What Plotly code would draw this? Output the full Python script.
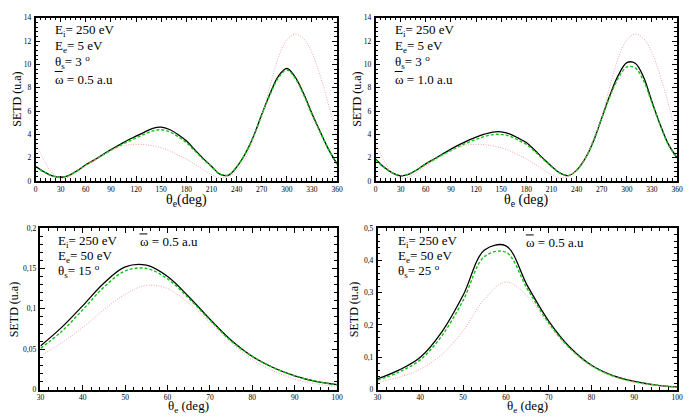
import plotly.graph_objects as go

# ---------------- data ----------------
theta_top = list(range(0, 361, 10))

p1_black = [1.28, 0.8, 0.45, 0.33, 0.5, 0.9, 1.4, 1.8, 2.25, 2.7, 3.1, 3.5, 3.85, 4.2, 4.52, 4.62, 4.42, 4.0, 3.45,
            2.7, 1.95, 1.28, 0.6, 0.5, 1.2, 2.3, 3.8, 5.7, 7.5, 9.0, 9.65, 8.9, 7.5, 5.8, 4.2, 2.7, 1.45]
p1_green = [1.25, 0.78, 0.45, 0.33, 0.5, 0.9, 1.4, 1.8, 2.22, 2.65, 3.02, 3.38, 3.7, 4.02, 4.3, 4.4, 4.22, 3.82, 3.3,
            2.6, 1.88, 1.25, 0.6, 0.52, 1.2, 2.3, 3.8, 5.65, 7.4, 8.85, 9.52, 8.8, 7.4, 5.72, 4.15, 2.68, 1.45]
p1_pink = [3.2, 1.8, 0.7, 0.25, 0.35, 0.8, 1.3, 1.75, 2.2, 2.6, 2.92, 3.1, 3.15, 3.13, 3.02, 2.85, 2.6, 2.25, 1.9,
           1.45, 1.0, 0.55, 0.28, 0.4, 0.9, 1.9, 3.6, 5.5, 8.2, 10.6, 12.1, 12.6, 12.2, 11.0, 9.0, 6.5, 3.6]

p2_black = [1.9, 1.2, 0.7, 0.45, 0.6, 1.0, 1.48, 1.9, 2.32, 2.74, 3.12, 3.47, 3.77, 4.02, 4.2, 4.22, 4.05, 3.7, 3.3,
            2.65, 1.95, 1.28, 0.7, 0.47, 0.92, 1.9, 3.4, 5.4, 7.4, 9.1, 10.15, 10.1, 8.9, 6.8, 4.8, 3.1, 2.0]
p2_green = [1.85, 1.18, 0.7, 0.45, 0.6, 1.0, 1.45, 1.85, 2.25, 2.62, 2.98, 3.3, 3.58, 3.82, 3.98, 4.0, 3.85, 3.52, 3.15,
            2.55, 1.88, 1.25, 0.7, 0.47, 0.92, 1.9, 3.4, 5.35, 7.3, 8.85, 9.78, 9.7, 8.6, 6.7, 4.75, 3.05, 2.0]
p2_pink = [3.2, 1.8, 0.7, 0.25, 0.35, 0.8, 1.3, 1.75, 2.2, 2.6, 2.92, 3.1, 3.15, 3.13, 3.02, 2.85, 2.6, 2.25, 1.9,
           1.45, 1.0, 0.55, 0.28, 0.4, 0.9, 1.9, 3.6, 5.5, 8.2, 10.6, 12.1, 12.6, 12.2, 11.0, 9.0, 6.5, 3.6]

theta_bot = list(range(30, 101, 5))

p3_black = [0.054, 0.077, 0.104, 0.132, 0.152, 0.154, 0.140, 0.115, 0.087, 0.061, 0.041, 0.027, 0.017, 0.010, 0.006]
p3_green = [0.051, 0.072, 0.099, 0.127, 0.147, 0.150, 0.137, 0.113, 0.086, 0.060, 0.041, 0.027, 0.017, 0.010, 0.006]
p3_pink = [0.042, 0.058, 0.077, 0.099, 0.118, 0.129, 0.125, 0.107, 0.083, 0.058, 0.037, 0.023, 0.013, 0.007, 0.004]

p4_black = [0.033, 0.060, 0.100, 0.178, 0.292, 0.432, 0.445, 0.322, 0.212, 0.130, 0.075, 0.043, 0.025, 0.014, 0.008]
p4_green = [0.029, 0.054, 0.092, 0.166, 0.276, 0.412, 0.425, 0.312, 0.206, 0.127, 0.074, 0.042, 0.024, 0.014, 0.008]
p4_pink = [0.022, 0.038, 0.063, 0.108, 0.182, 0.280, 0.333, 0.290, 0.200, 0.125, 0.072, 0.040, 0.022, 0.012, 0.007]

panels = [
    dict(x=theta_top, ys=[p1_black, p1_green, p1_pink]),
    dict(x=theta_top, ys=[p2_black, p2_green, p2_pink]),
    dict(x=theta_bot, ys=[p3_black, p3_green, p3_pink]),
    dict(x=theta_bot, ys=[p4_black, p4_green, p4_pink]),
]

# ---------------- layout geometry ----------------
W, H = 690, 419
FONT = "Liberation Serif, Times New Roman, serif"

def fx(px):
    return px / W

def fy(py):
    return 1 - py / H

dom = [
    ((32, 338), (14, 181)),
    ((377, 683), (14, 181)),
    ((37, 338), (229, 394)),
    ((379, 683), (229, 394)),
]
xcfg = [
    dict(range=[0, 360], dtick=30, minor=6),
    dict(range=[0, 360], dtick=30, minor=6),
    dict(range=[30, 100], dtick=10, minor=2),
    dict(range=[30, 100], dtick=10, minor=2),
]
ycfg = [
    dict(range=[0, 14], dtick=2, minor=0.4),
    dict(range=[0, 14], dtick=2, minor=0.4),
    dict(range=[0, 0.2], dtick=0.05, minor=0.01),
    dict(range=[0, 0.5], dtick=0.1, minor=0.02),
]

styles = [
    dict(color="black", width=1.3, dash="solid"),
    dict(color="#11c411", width=1.4, dash="3px,2px"),
    dict(color="#f7a3ad", width=1, dash="1px,1.5px"),
]

fig = go.Figure()
layout = dict(width=W, height=H, autosize=False, margin=dict(l=0, r=0, t=0, b=0),
              paper_bgcolor="white", plot_bgcolor="white", showlegend=False,
              separators=", ", font=dict(family=FONT, color="black"))

for i, p in enumerate(panels):
    n = "" if i == 0 else str(i + 1)
    for ys, st in zip(p["ys"], styles):
        fig.add_trace(go.Scatter(x=p["x"], y=ys, mode="lines", line=dict(shape="spline", smoothing=1.0, **st),
                                 xaxis="x" + n, yaxis="y" + n, hoverinfo="skip"))
    (x0, x1), (y0, y1) = dom[i]
    common = dict(showline=True, linecolor="black", linewidth=1.5, mirror="ticks", ticks="inside",
                  ticklen=5, tickwidth=1.2, tickcolor="black", showgrid=False, zeroline=False,
                  tickfont=dict(family=FONT, size=7.5, color="black"))
    layout["xaxis" + n] = dict(domain=[fx(x0), fx(x1)], anchor="y" + n, range=xcfg[i]["range"],
                               tick0=xcfg[i]["range"][0], dtick=xcfg[i]["dtick"],
                               minor=dict(dtick=xcfg[i]["minor"], ticks="inside", ticklen=3, tickcolor="black",
                                          tickwidth=1, showgrid=False),
                               ticklabelstandoff=0, **common)
    layout["yaxis" + n] = dict(domain=[fy(y1), fy(y0)], anchor="x" + n, range=ycfg[i]["range"],
                               tick0=0, dtick=ycfg[i]["dtick"],
                               minor=dict(dtick=ycfg[i]["minor"], ticks="inside", ticklen=3, tickcolor="black",
                                          tickwidth=1, showgrid=False),
                               ticklabelstandoff=1, **common)

fig.update_layout(**layout)

ann = []
shapes = []

def text(x, y, s, size=13, xanchor="left", angle=0):
    ann.append(dict(x=fx(x), y=fy(y), xref="paper", yref="paper", text=s, showarrow=False,
                    xanchor=xanchor, yanchor="middle", textangle=angle, borderpad=0,
                    font=dict(family=FONT, size=size, color="black")))

def omega(x, y, val):
    text(x, y, "ω = " + val + " a.u")
    shapes.append(dict(type="line", xref="paper", yref="paper", x0=fx(x + 0.5), x1=fx(x + 8.5),
                       y0=fy(y - 8), y1=fy(y - 8), line=dict(color="black", width=1)))

# panel 1 & 2 labels
for dx, w in [(0, "0.5"), (345, "1.0")]:
    text(51 + dx, 27, "E<sub>i</sub>= 250 eV")
    text(51 + dx, 43, "E<sub>e</sub>= 5 eV")
    text(51 + dx, 59, "θ<sub>s</sub>= 3 <sup>o</sup>")
    omega(51 + dx, 77, w)

# panel 3
text(54, 243, "E<sub>i</sub>= 250 eV")
omega(137, 243, "0.5")
text(54, 258, "E<sub>e</sub>= 50 eV")
text(54, 273, "θ<sub>s</sub>= 15 <sup>o</sup>")
# panel 4
text(399, 243, "E<sub>i</sub>= 250 eV")
omega(529, 244, "0.5")
text(399, 258, "E<sub>e</sub>= 50 eV")
text(399, 273, "θ<sub>s</sub>= 25 <sup>o</sup>")

# axis titles
text(13, 97, "SETD (u.a)", size=12, xanchor="center", angle=-90)
text(358, 97, "SETD (u.a)", size=12, xanchor="center", angle=-90)
text(10, 312, "SETD (u.a)", size=12, xanchor="center", angle=-90)
text(355, 312, "SETD (u.a)", size=12, xanchor="center", angle=-90)
text(185, 201, "θ<sub>e</sub>(deg)", size=14, xanchor="center")
text(530, 201, "θ<sub>e</sub> (deg)", size=14, xanchor="center")
text(187, 411.5, "θ<sub>e</sub> (deg)", size=13, xanchor="center")
text(531, 411.5, "θ<sub>e</sub> (deg)", size=13, xanchor="center")

fig.update_layout(annotations=ann, shapes=shapes)
fig.write_html("out.html")
